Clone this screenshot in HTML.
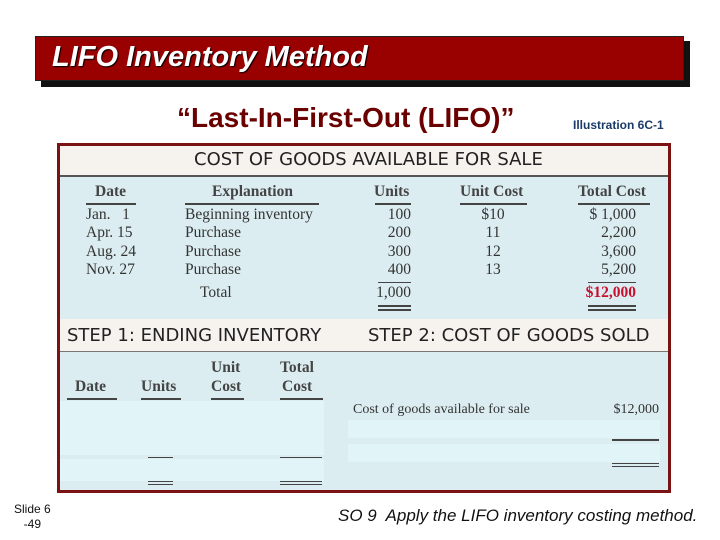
<!DOCTYPE html>
<html><head><meta charset="utf-8"><style>
body{margin:0;width:720px;height:540px;background:#fff;position:relative;overflow:hidden;font-family:"Liberation Sans",sans-serif}
.a{position:absolute;white-space:nowrap}
.s{font-family:"Liberation Serif",serif;font-size:15.5px;color:#333}
.b{font-weight:bold;color:#444}
.ul{position:absolute;height:2px;background:#444}
.sans{font-family:"DejaVu Sans","Liberation Sans",sans-serif;color:#222}
</style></head><body>
<div class="a" style="left:41px;top:41px;width:649px;height:46px;background:#111"></div>
<div class="a" style="left:35px;top:36px;width:647px;height:43px;background:#990000;border:1px solid #222"></div>
<div class="a" style="left:52px;top:41px;font-size:29px;font-style:italic;color:#fff;font-weight:bold;text-shadow:1px 1px 1px #000">LIFO Inventory Method</div>
<div class="a" style="left:177px;top:102px;font-size:28px;color:#6b0000;font-weight:bold">“Last-In-First-Out (LIFO)”</div>
<div class="a" style="left:573px;top:118px;font-size:12px;color:#1a3a6a;font-weight:bold">Illustration 6C-1</div>

<div class="a" style="left:57px;top:143px;width:608px;height:344px;border:3px solid #7a1212;background:#dcedf1"></div>
<div class="a" style="left:60px;top:146px;width:608px;height:29px;background:#f6f3ef;border-bottom:2px solid #555"></div>
<div class="a sans" style="left:194px;top:149px;font-size:18px">COST OF GOODS AVAILABLE FOR SALE</div>

<div class="a s b" style="left:95px;top:183px">Date</div>
<div class="a s b" style="left:212px;top:183px">Explanation</div>
<div class="a s b" style="left:374px;top:183px">Units</div>
<div class="a s b" style="left:460px;top:183px">Unit Cost</div>
<div class="a s b" style="left:578px;top:183px">Total Cost</div>
<div class="ul" style="left:86px;top:203px;width:50px"></div>
<div class="ul" style="left:185px;top:203px;width:134px"></div>
<div class="ul" style="left:375px;top:203px;width:36px"></div>
<div class="ul" style="left:460px;top:203px;width:67px"></div>
<div class="ul" style="left:578px;top:203px;width:72px"></div>

<div class="a s" style="left:86px;top:206px;line-height:18.3px">Jan.&nbsp;&nbsp;&nbsp;1<br>Apr. 15<br>Aug. 24<br>Nov. 27</div>
<div class="a s" style="left:185px;top:206px;line-height:18.3px">Beginning inventory<br>Purchase<br>Purchase<br>Purchase</div>
<div class="a s" style="left:365px;top:206px;width:46px;text-align:right;line-height:18.3px">100<br>200<br>300<br>400</div>
<div class="a s" style="left:470px;top:206px;width:46px;text-align:center;line-height:18.3px">$10<br>11<br>12<br>13</div>
<div class="a s" style="left:568px;top:206px;width:68px;text-align:right;line-height:18.3px">$&nbsp;1,000<br>2,200<br>3,600<br>5,200</div>
<div class="ul" style="left:378px;top:282px;width:33px;height:1px"></div>
<div class="ul" style="left:588px;top:282px;width:48px;height:1px"></div>
<div class="a s" style="left:200px;top:284px">Total</div>
<div class="a s" style="left:365px;top:284px;width:46px;text-align:right">1,000</div>
<div class="a s" style="left:568px;top:284px;width:68px;text-align:right;color:#c8102e;font-weight:bold">$12,000</div>
<div class="ul" style="left:378px;top:305px;width:33px"></div><div class="ul" style="left:378px;top:309px;width:33px"></div>
<div class="ul" style="left:588px;top:305px;width:48px"></div><div class="ul" style="left:588px;top:309px;width:48px"></div>

<div class="a" style="left:60px;top:319px;width:608px;height:32px;background:#f6f3ef;border-bottom:1px solid #777"></div>
<div class="a sans" style="left:67px;top:325px;font-size:18px">STEP 1: ENDING INVENTORY</div>
<div class="a sans" style="left:368px;top:325px;font-size:18px">STEP 2: COST OF GOODS SOLD</div>

<div class="a s b" style="left:211px;top:359px">Unit</div>
<div class="a s b" style="left:280px;top:359px">Total</div>
<div class="a s b" style="left:75px;top:378px">Date</div>
<div class="a s b" style="left:141px;top:378px">Units</div>
<div class="a s b" style="left:211px;top:378px">Cost</div>
<div class="a s b" style="left:282px;top:378px">Cost</div>
<div class="ul" style="left:67px;top:398px;width:50px"></div>
<div class="ul" style="left:141px;top:398px;width:40px"></div>
<div class="ul" style="left:211px;top:398px;width:33px"></div>
<div class="ul" style="left:280px;top:398px;width:43px"></div>

<div class="a" style="left:60px;top:401px;width:264px;height:54px;background:#e1f5f9"></div>
<div class="a" style="left:60px;top:459px;width:264px;height:22px;background:#e1f5f9"></div>
<div class="ul" style="left:148px;top:457px;width:25px;height:1px"></div>
<div class="ul" style="left:280px;top:457px;width:42px;height:1px"></div>
<div class="ul" style="left:148px;top:481px;width:25px;height:1px"></div><div class="ul" style="left:148px;top:484px;width:25px;height:1px"></div>
<div class="ul" style="left:280px;top:481px;width:42px;height:1px"></div><div class="ul" style="left:280px;top:484px;width:42px;height:1px"></div>

<div class="a s" style="left:353px;top:402px;font-size:14px">Cost of goods available for sale</div>
<div class="a s" style="left:590px;top:402px;width:69px;text-align:right;font-size:14px">$12,000</div>
<div class="a" style="left:348px;top:420px;width:312px;height:18px;background:#e1f5f9"></div>
<div class="a" style="left:348px;top:444px;width:312px;height:18px;background:#e1f5f9"></div>
<div class="ul" style="left:612px;top:439px;width:47px"></div>
<div class="ul" style="left:612px;top:463px;width:47px;height:1px"></div><div class="ul" style="left:612px;top:466px;width:47px;height:1px"></div>

<div class="a" style="left:14px;top:502px;font-size:12px;text-align:center;line-height:15px;color:#111">Slide 6<br>-49</div>
<div class="a" style="left:338px;top:506px;font-size:17px;font-style:italic;color:#111">SO 9&nbsp; Apply the LIFO inventory costing method.</div>
</body></html>
